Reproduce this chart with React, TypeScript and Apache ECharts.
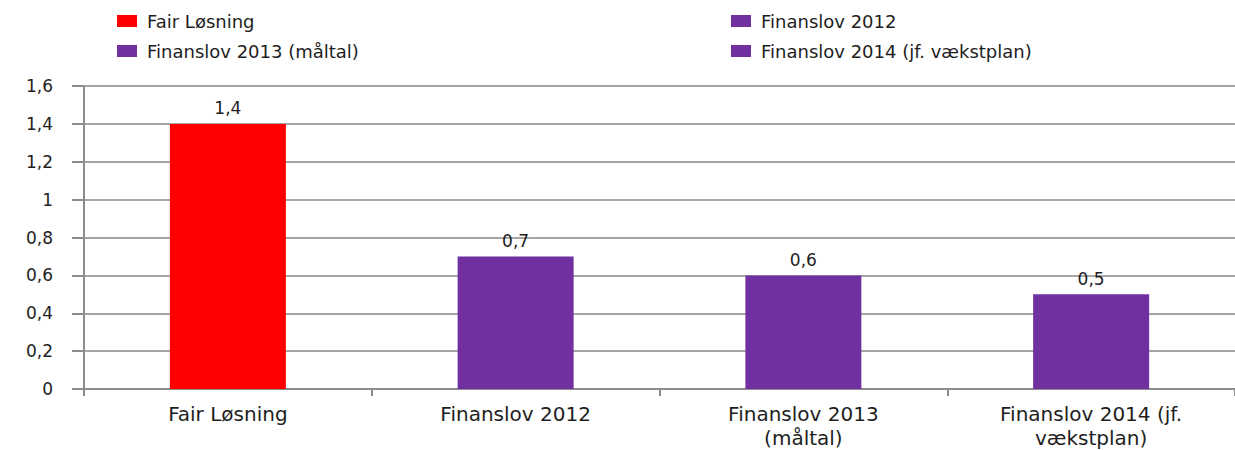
import React, { useEffect, useRef } from "react";
import * as echarts from "echarts";

const categories = ["Fair Løsning", "Finanslov 2012", "Finanslov 2013 (måltal)", "Finanslov 2014 (jf. vækstplan)"];
const axisLabels = ["Fair Løsning", "Finanslov 2012", "Finanslov 2013\n(måltal)", "Finanslov 2014 (jf.\nvækstplan)"];
const values = [1.4, 0.7, 0.6, 0.5];
const colors = ["#FF0000", "#7030A0", "#7030A0", "#7030A0"];
const yTicks = ["0", "0,2", "0,4", "0,6", "0,8", "1", "1,2", "1,4", "1,6"];

const FONT = "DejaVu Sans";
const TEXT = "#1e1e1e";

export default function App() {
  const ref = useRef<HTMLDivElement>(null);
  useEffect(() => {
    document.body.style.margin = "0";
    const chart = echarts.init(ref.current!, null, { renderer: "svg" });
    const series = categories.map((name, i) => ({
      name,
      type: "bar",
      stack: "all",
      barWidth: 116,
      itemStyle: { color: colors[i] },
      data: values.map((v, j) => (j === i ? v : null)),
      label: {
        show: true,
        position: "top",
        distance: 7,
        color: TEXT,
        fontFamily: FONT,
        fontSize: 17,
        formatter: (p: any) => String(p.value).replace(".", ","),
      },
    }));
    const legendBase = {
      orient: "vertical",
      top: 7,
      itemWidth: 20,
      itemHeight: 12,
      itemGap: 12,
      icon: "rect",
      selectedMode: false,
      textStyle: { fontFamily: FONT, fontSize: 18, color: TEXT, padding: [0, 0, 0, 5] },
    };
    chart.setOption({
      animation: false,
      legend: [
        { ...legendBase, data: [categories[0], categories[2]], left: 112 },
        { ...legendBase, data: [categories[1], categories[3]], left: 726 },
      ],
      grid: { left: 84, right: 0, top: 86, bottom: 60, containLabel: false },
      xAxis: {
        type: "category",
        data: categories,
        axisLine: { lineStyle: { color: "#8c8c8c", width: 2 } },
        axisTick: { show: true, length: 7, lineStyle: { color: "#8c8c8c", width: 2 } },
        axisLabel: {
          color: TEXT,
          fontFamily: FONT,
          fontSize: 20,
          lineHeight: 24,
          margin: 13,
          formatter: (v: string) => axisLabels[categories.indexOf(v)],
        },
      },
      yAxis: {
        type: "value",
        min: 0,
        max: 1.6,
        interval: 0.2,
        axisLine: { show: true, lineStyle: { color: "#8c8c8c", width: 2 } },
        axisTick: { show: true, length: 12, lineStyle: { color: "#8c8c8c", width: 2 } },
        splitLine: { lineStyle: { color: "#a6a6a6", width: 2 } },
        axisLabel: {
          color: TEXT,
          fontFamily: FONT,
          fontSize: 17,
          margin: 31,
          formatter: (v: number) => yTicks[Math.round(v / 0.2)],
        },
      },
      series,
    });
    return () => chart.dispose();
  }, []);
  return <div ref={ref} style={{ width: 1235, height: 450 }} />;
}
